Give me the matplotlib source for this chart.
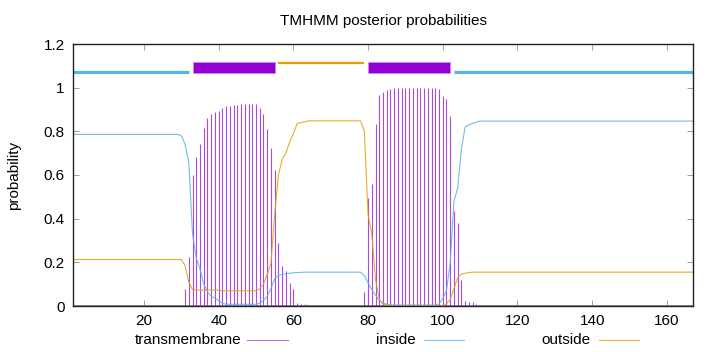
import matplotlib
matplotlib.use("Agg")
import matplotlib.pyplot as plt
from matplotlib.lines import Line2D
from matplotlib.patches import Rectangle

plt.rcParams['font.family'] = ['Liberation Sans', 'DejaVu Sans']

# ---- data (residue 1..167) ----
residues = list(range(1, 168))

transmembrane = [
    0, 0, 0, 0, 0, 0, 0, 0, 0, 0, 0, 0, 0, 0, 0, 0, 0, 0, 0, 0,             # 1-20
    0, 0, 0, 0, 0, 0, 0, 0, 0, 0,                                           # 21-30
    0.077, 0.224, 0.598, 0.684, 0.740, 0.817, 0.860, 0.881, 0.890, 0.893,   # 31-40
    0.909, 0.914, 0.918, 0.920, 0.922, 0.923, 0.924, 0.924, 0.924, 0.923,   # 41-50
    0.909, 0.878, 0.810, 0.725, 0.625, 0.288, 0.181, 0.160, 0.104, 0.077,   # 51-60
    0.012, 0.010, 0.008, 0.006, 0.005, 0.004, 0.003, 0.002, 0.002, 0,       # 61-70
    0, 0, 0, 0, 0, 0, 0, 0, 0.066, 0.495,                                   # 71-80
    0.561, 0.832, 0.966, 0.978, 0.989, 0.995, 0.998, 0.999, 1.000, 1.000,   # 81-90
    1.000, 1.000, 1.000, 1.000, 0.999, 0.999, 0.998, 0.997, 0.993, 0.962,   # 91-100
    0.947, 0.868, 0.437, 0.380, 0.120, 0.022, 0.018, 0.018, 0.010, 0.005,   # 101-110
    0, 0, 0, 0, 0, 0, 0, 0, 0, 0, 0, 0, 0, 0, 0, 0, 0, 0, 0, 0,             # 111-130
    0, 0, 0, 0, 0, 0, 0, 0, 0, 0, 0, 0, 0, 0, 0, 0, 0, 0, 0, 0,             # 131-150
    0, 0, 0, 0, 0, 0, 0, 0, 0, 0, 0, 0, 0, 0, 0, 0, 0,                      # 151-167
]

inside = [
    0.786, 0.786, 0.786, 0.786, 0.786, 0.786, 0.786, 0.786, 0.786, 0.786,   # 1-10
    0.786, 0.786, 0.786, 0.786, 0.786, 0.786, 0.786, 0.786, 0.786, 0.786,   # 11-20
    0.786, 0.786, 0.786, 0.786, 0.786, 0.786, 0.786, 0.786, 0.786, 0.780,   # 21-30
    0.740, 0.660, 0.330, 0.220, 0.170, 0.100, 0.065, 0.045, 0.035, 0.025,   # 31-40
    0.012, 0.008, 0.008, 0.008, 0.008, 0.008, 0.008, 0.008, 0.008, 0.008,   # 41-50
    0.012, 0.025, 0.045, 0.080, 0.125, 0.140, 0.145, 0.148, 0.150, 0.152,   # 51-60
    0.153, 0.154, 0.155, 0.155, 0.155, 0.155, 0.155, 0.155, 0.155, 0.155,   # 61-70
    0.155, 0.155, 0.155, 0.155, 0.155, 0.155, 0.155, 0.155, 0.140, 0.105,   # 71-80
    0.075, 0.050, 0.025, 0.014, 0.008, 0.004, 0.004, 0.004, 0.004, 0.004,   # 81-90
    0.004, 0.004, 0.004, 0.004, 0.004, 0.004, 0.004, 0.004, 0.010, 0.035,   # 91-100
    0.070, 0.200, 0.480, 0.540, 0.720, 0.820, 0.830, 0.836, 0.842, 0.847,   # 101-110
    0.847, 0.847, 0.847, 0.847, 0.847, 0.847, 0.847, 0.847, 0.847, 0.847,   # 111-120
    0.847, 0.847, 0.847, 0.847, 0.847, 0.847, 0.847, 0.847, 0.847, 0.847,   # 121-130
    0.847, 0.847, 0.847, 0.847, 0.847, 0.847, 0.847, 0.847, 0.847, 0.847,   # 131-140
    0.847, 0.847, 0.847, 0.847, 0.847, 0.847, 0.847, 0.847, 0.847, 0.847,   # 141-150
    0.847, 0.847, 0.847, 0.847, 0.847, 0.847, 0.847, 0.847, 0.847, 0.847,   # 151-160
    0.847, 0.847, 0.847, 0.847, 0.847, 0.847, 0.847,                        # 161-167
]

outside = [
    0.213, 0.213, 0.213, 0.213, 0.213, 0.213, 0.213, 0.213, 0.213, 0.213,   # 1-10
    0.213, 0.213, 0.213, 0.213, 0.213, 0.213, 0.213, 0.213, 0.213, 0.213,   # 11-20
    0.213, 0.213, 0.213, 0.213, 0.213, 0.213, 0.213, 0.213, 0.213, 0.213,   # 21-30
    0.185, 0.110, 0.075, 0.073, 0.073, 0.073, 0.073, 0.073, 0.073, 0.073,   # 31-40
    0.070, 0.070, 0.070, 0.070, 0.070, 0.070, 0.070, 0.070, 0.070, 0.068,   # 41-50
    0.080, 0.100, 0.145, 0.195, 0.420, 0.600, 0.670, 0.700, 0.750, 0.790,   # 51-60
    0.835, 0.840, 0.843, 0.848, 0.848, 0.848, 0.848, 0.848, 0.848, 0.848,   # 61-70
    0.848, 0.848, 0.848, 0.848, 0.848, 0.848, 0.848, 0.848, 0.800, 0.420,   # 71-80
    0.330, 0.120, 0.030, 0.010, 0.004, 0.000, 0.000, 0.000, 0.000, 0.000,   # 81-90
    0.000, 0.000, 0.000, 0.000, 0.000, 0.000, 0.000, 0.000, 0.000, 0.000,   # 91-100
    0.010, 0.030, 0.080, 0.130, 0.147, 0.150, 0.153, 0.155, 0.155, 0.155,   # 101-110
    0.155, 0.155, 0.155, 0.155, 0.155, 0.155, 0.155, 0.155, 0.155, 0.155,   # 111-120
    0.155, 0.155, 0.155, 0.155, 0.155, 0.155, 0.155, 0.155, 0.155, 0.155,   # 121-130
    0.155, 0.155, 0.155, 0.155, 0.155, 0.155, 0.155, 0.155, 0.155, 0.155,   # 131-140
    0.155, 0.155, 0.155, 0.155, 0.155, 0.155, 0.155, 0.155, 0.155, 0.155,   # 141-150
    0.155, 0.155, 0.155, 0.155, 0.155, 0.155, 0.155, 0.155, 0.155, 0.155,   # 151-160
    0.155, 0.155, 0.155, 0.155, 0.155, 0.155, 0.155,                        # 161-167
]

# predicted topology segments (start, end)
inside_segments = [(1, 32), (103, 167)]
tm_segments = [(33, 55), (80, 102)]
outside_segments = [(56, 79)]

x_ticks = [20, 40, 60, 80, 100, 120, 140, 160]
y_ticks = [0, 0.2, 0.4, 0.6, 0.8, 1.0, 1.2]
y_tick_labels = ["0", "0.2", "0.4", "0.6", "0.8", "1", "1.2"]

C_TM = '#9400D3'
C_TM_LINE = '#a94ae3'
C_IN = '#56B4E9'
C_OUT = '#E69F00'

# ---- figure ----
fig = plt.figure(figsize=(7.2, 3.52), dpi=100)
ax = fig.add_axes([73 / 720, 1 - 306 / 352, 620 / 720, 262 / 352])

ax.vlines(residues, 0, transmembrane, color=C_TM_LINE, linewidth=0.8)
ax.plot(residues, inside, color=C_IN, linewidth=0.8, alpha=0.85)
ax.plot(residues, outside, color=C_OUT, linewidth=0.8, alpha=0.85)
ax.axhline(0, color='#808080', linewidth=1.2, zorder=1)

# topology bar on top
for s, e in inside_segments:
    ax.plot([s, e], [1.073, 1.073], color=C_IN, linewidth=2.3, solid_capstyle='butt')
for s, e in outside_segments:
    ax.plot([s, e], [1.113, 1.113], color=C_OUT, linewidth=1.6, solid_capstyle='butt')
for s, e in tm_segments:
    ax.add_patch(Rectangle((s, 1.069), e - s, 0.048, facecolor=C_TM,
                           edgecolor='#c98ae6', linewidth=0.6))

ax.set_xlim(1, 167)
ax.set_ylim(0, 1.2)
ax.set_xticks(x_ticks)
ax.set_yticks(y_ticks)
ax.set_yticklabels(y_tick_labels)
ax.tick_params(direction='in', length=4, width=0.6, color='#909090',
               top=True, right=True, labelsize=11, pad=6)
for sp in ax.spines.values():
    sp.set_linewidth(1.0)
    sp.set_color('#222222')

ax.set_title("TMHMM posterior probabilities", fontsize=11, pad=14)
ax.set_ylabel("probability", fontsize=11, labelpad=16)

# legend (gnuplot style: text then sample line)
legend_items = [("transmembrane", C_TM_LINE, 241, 247, 288),
                ("inside", C_IN, 416, 424, 464),
                ("outside", C_OUT, 591, 599, 639)]
for label, col, tx, x0, x1 in legend_items:
    fig.text(tx / 720, 1 - 340 / 352, label, ha='right', va='center', fontsize=11)
    fig.add_artist(Line2D([x0 / 720, x1 / 720], [1 - 340 / 352, 1 - 340 / 352],
                          color=col, linewidth=0.8, alpha=0.8,
                          transform=fig.transFigure))

fig.savefig("out.png", dpi=100)
